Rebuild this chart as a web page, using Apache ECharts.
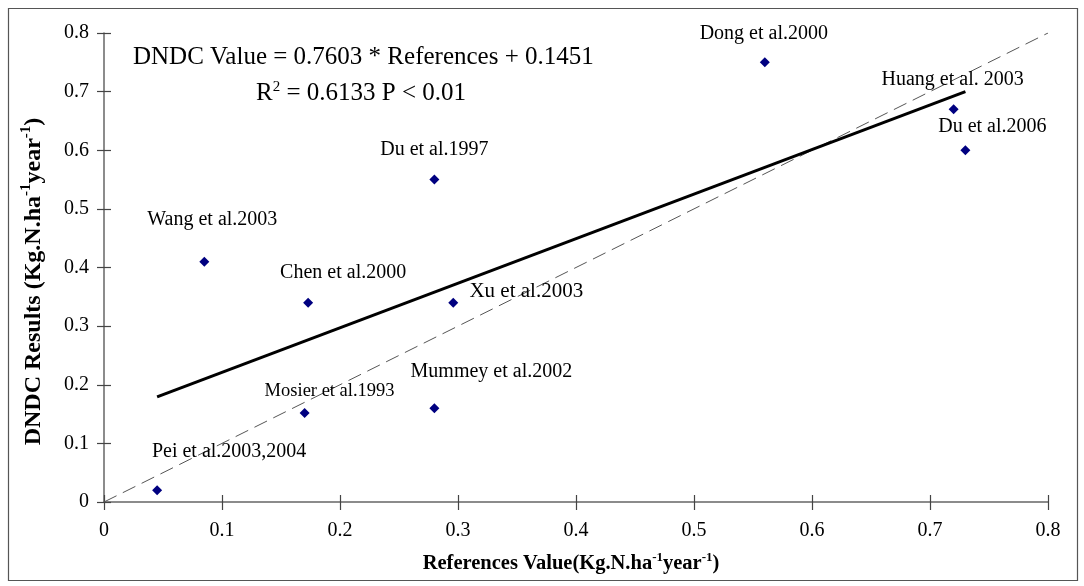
<!DOCTYPE html>
<html><head><meta charset="utf-8">
<script src="https://cdn.jsdelivr.net/npm/echarts@6/dist/echarts.min.js"></script>
<style>html,body{margin:0;padding:0;background:#fff}#c{width:1084px;height:586px}</style>
</head><body><div id="c"></div>
<script>
// Data
const names = ["Pei et al.2003,2004","Wang et al.2003","Chen et al.2000","Mosier et al.1993","Du et al.1997","Mummey et al.2002","Xu et al.2003","Dong et al.2000","Huang et al. 2003","Du et al.2006"];
const refValues = [0.045,0.085,0.173,0.17,0.28,0.28,0.296,0.56,0.72,0.73];
const dndcValues = [0.02,0.41,0.34,0.152,0.55,0.16,0.34,0.75,0.67,0.60];
const slope = 0.7603, intercept = 0.1451;
const fitRange = [0.045, 0.73];
const oneToOne = [0, 0.8];
const xTicks = [0,0.1,0.2,0.3,0.4,0.5,0.6,0.7,0.8];
const yTicks = [0,0.1,0.2,0.3,0.4,0.5,0.6,0.7,0.8];

// label styling (offsets in px)
const labelOffsets = [[72,-39],[8,-42],[35,-30],[25,-22],[0,-30],[57,-36],[73,-11],[-1,-29],[-1,-29],[27,-24]];
const labelSizes = [20,20,20,18.5,20,20,21,20,20,20];

const serif = '"Liberation Serif","DejaVu Serif",serif';
const scatterData = refValues.map((x,i)=>({
  value:[x,dndcValues[i]],
  label:{show:true,formatter:names[i],position:'inside',offset:labelOffsets[i],fontSize:labelSizes[i],
         color:'#000',fontFamily:serif,textBorderWidth:0,textBorderColor:'transparent',opacity:1}
}));

const chart = echarts.init(document.getElementById('c'));
const axisCommon = {
  type:'value', min:0, max:0.8, interval:0.1,
  splitLine:{show:false}
};
const yTitleRich = {
  b:{fontSize:24,fontWeight:'bold',fontFamily:serif,color:'#000'},
  s:{fontSize:15,fontWeight:'bold',fontFamily:serif,color:'#000',verticalAlign:'top',padding:[0,0,14,0]}
};
const xTitleRich = {
  b:{fontSize:20.5,fontWeight:'bold',fontFamily:serif,color:'#000'},
  s:{fontSize:13,fontWeight:'bold',fontFamily:serif,color:'#000',verticalAlign:'top',padding:[0,0,12,0]}
};
chart.setOption({
  animation:false,
  backgroundColor:'#fff',
  grid:{left:104,right:36,top:33,bottom:84,containLabel:false},
  graphic:[
    {type:'rect',shape:{x:8.5,y:8.5,width:1069,height:572},style:{fill:'none',stroke:'#555',lineWidth:1.2},silent:true},
    {type:'text',left:133,top:45,style:{text:'DNDC Value = 0.7603 * References + 0.1451',font:'25px '+serif,fill:'#000'}},
    {type:'text',left:256,top:80,style:{
      text:'{n|R}{s|2}{n| = 0.6133 P < 0.01}',
      rich:{n:{fontSize:25,fontFamily:serif,color:'#000'},s:{fontSize:15,fontFamily:serif,color:'#000',verticalAlign:'top',padding:[0,0,12,0]}}
    }}
  ],
  xAxis:[
    Object.assign({},axisCommon,{
      name:'{b|References Value(Kg.N.ha}{s|-1}{b|year}{s|-1}{b|)}',
      nameLocation:'middle',nameGap:49,
      nameTextStyle:{rich:xTitleRich,padding:[0,10,0,0]},
      axisLine:{show:true,lineStyle:{color:'#666',width:1.5}},
      axisTick:{show:true,length:8,lineStyle:{color:'#444',width:1.2}},
      axisLabel:{margin:19,fontSize:20,fontFamily:serif,color:'#000',formatter:v=>String(+v.toFixed(1))}
    }),
    Object.assign({},axisCommon,{
      position:'bottom',
      axisLine:{show:false},
      axisTick:{show:true,inside:true,length:7,lineStyle:{color:'#444',width:1.2}},
      axisLabel:{show:false}
    })
  ],
  yAxis:[
    Object.assign({},axisCommon,{
      name:'{b|DNDC Results (Kg.N.ha}{s|-1}{b|year}{s|-1}{b|)}',
      nameLocation:'middle',nameGap:56,nameRotate:90,
      nameTextStyle:{rich:yTitleRich,padding:[0,28,0,0]},
      axisLine:{show:true,lineStyle:{color:'#666',width:1.5}},
      axisTick:{show:true,length:7,lineStyle:{color:'#444',width:1.2}},
      axisLabel:{margin:15,fontSize:20,fontFamily:serif,color:'#000',formatter:v=>String(+v.toFixed(1))}
    }),
    Object.assign({},axisCommon,{
      position:'left',
      axisLine:{show:false},
      axisTick:{show:true,inside:true,length:7,lineStyle:{color:'#444',width:1.2}},
      axisLabel:{show:false}
    })
  ],
  series:[
    {type:'line',data:oneToOne.map(v=>[v,v]),symbol:'none',lineStyle:{color:'#555',width:1,type:[14,7]},z:1},
    {type:'line',data:fitRange.map(x=>[x,slope*x+intercept]),symbol:'none',lineStyle:{color:'#000',width:3},z:2},
    {type:'scatter',data:scatterData,symbol:'diamond',symbolSize:10,itemStyle:{color:'#000080',opacity:1},z:3}
  ]
});
</script></body></html>
